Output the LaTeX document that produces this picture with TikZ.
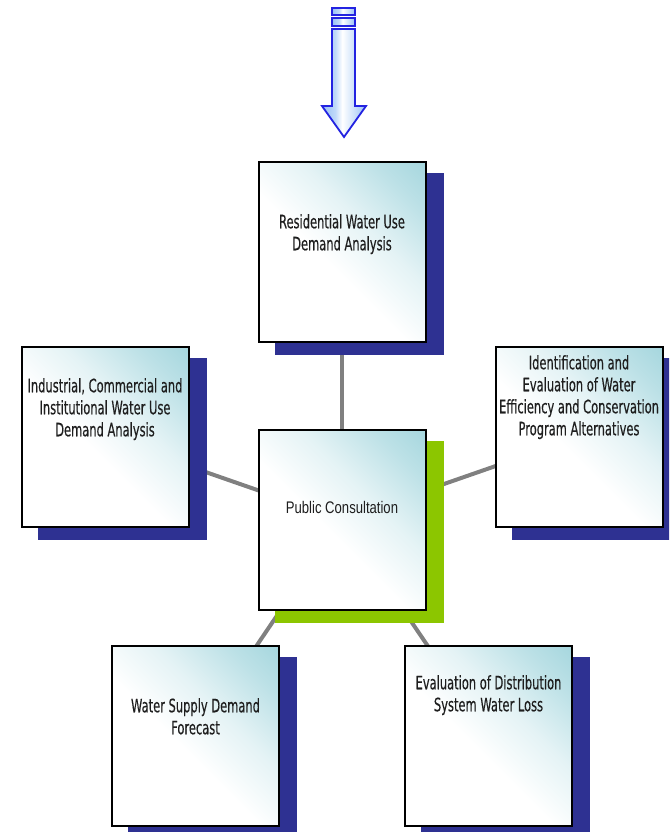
\documentclass[tikz,border=0pt]{standalone}
\usepackage{fontspec}
\newfontfamily\boxfont{DejaVu Sans}[FakeStretch=0.62, FakeBold=0.35]
\newfontfamily\pubfont{Liberation Sans}[FakeStretch=0.78]
\usetikzlibrary{backgrounds}

\definecolor{boxteal}{RGB}{160,212,220}
\definecolor{shadownavy}{RGB}{46,49,146}
\definecolor{shadowgreen}{RGB}{140,198,0}
\definecolor{linkgray}{RGB}{128,128,128}
\definecolor{arrowedge}{RGB}{35,35,225}
\definecolor{arrowfill}{RGB}{150,192,245}
\definecolor{inktext}{RGB}{30,30,30}

% white over most of the box, turning teal towards the top right corner
\pgfdeclarehorizontalshading{tealfade}{100bp}{color(0bp)=(white); color(45bp)=(white);
  color(60bp)=(boxteal!28); color(75bp)=(boxteal!70); color(88bp)=(boxteal); color(100bp)=(boxteal)}
% pale blue edges with a white core for the down arrow
\pgfdeclarehorizontalshading{arrowfade}{100bp}{color(0bp)=(arrowfill); color(25bp)=(arrowfill);
  color(40bp)=(white!40!arrowfill); color(48bp)=(white); color(62bp)=(white!50!arrowfill);
  color(75bp)=(arrowfill); color(100bp)=(arrowfill)}

\tikzset{
  stepbox/.style={draw=black, line width=2pt, shade, shading=tealfade, shading angle=45,
    minimum width=167pt, minimum height=180pt, inner sep=0pt},
  steptext/.style={anchor=north, inner sep=0pt, align=center, text=inktext,
    font=\boxfont\fontsize{18.5}{22}\selectfont},
  link/.style={draw=linkgray, line width=4pt},
  arrowpart/.style={draw=arrowedge, line width=1.8pt, line join=miter, shade, shading=arrowfade},
}

\begin{document}
\begin{tikzpicture}[x=1pt, y=-1pt]
\useasboundingbox (0,0) rectangle (669,832);

% process boxes
\node[stepbox] (res) at (342,252) {};
\node[stepbox] (ind) at (105,437) {};
\node[stepbox] (ide) at (579,437) {};
\node[stepbox] (pub) at (342,519.5) {};
\node[stepbox] (wsd) at (195.5,736) {};
\node[stepbox] (eva) at (488.5,735.5) {};

% box captions
\node[steptext] (res-t) at (342,214) {Residential Water Use\\Demand Analysis};
\node[steptext] (ind-t) at (105,378) {Industrial, Commercial and\\Institutional Water Use\\Demand Analysis};
\node[steptext] (ide-t) at (579,355) {Identification and\\Evaluation of Water\\Efficiency and Conservation\\Program Alternatives};
\node[steptext, font=\pubfont\fontsize{16.8}{22}\selectfont] (pub-t) at (342,501) {Public Consultation};
\node[steptext] (wsd-t) at (195.5,698) {Water Supply Demand\\Forecast};
\node[steptext] (eva-t) at (488.5,675) {Evaluation of Distribution\\System Water Loss};

% spokes and drop shadows behind the boxes
\begin{scope}[on background layer]
  \clip (0,0) rectangle (669,832);
  \draw[link] (pub.center) -- (res.center);
  \draw[link] (pub.center) -- (ind.center);
  \draw[link] (pub.center) -- (ide.center);
  \draw[link] (pub.center) -- (wsd.center);
  \draw[link] (pub.center) -- (eva.center);
  \foreach \b in {res,ind,ide,wsd,eva}
    \fill[shadownavy] ([xshift=17pt,yshift=-12pt]\b.south west) rectangle ([xshift=17pt,yshift=-12pt]\b.north east);
  \fill[shadowgreen] ([xshift=17pt,yshift=-12pt]pub.south west) rectangle ([xshift=17pt,yshift=-12pt]pub.north east);
\end{scope}

% incoming arrow at the top
\path[arrowpart] (332,8) rectangle (355,15);
\path[arrowpart] (332,18) rectangle (355,26);
\path[arrowpart] (332,29) -- (355,29) -- (355,106) -- (366,106) -- (344,137)
  -- (322,106) -- (332,106) -- cycle;
\end{tikzpicture}
\end{document}
